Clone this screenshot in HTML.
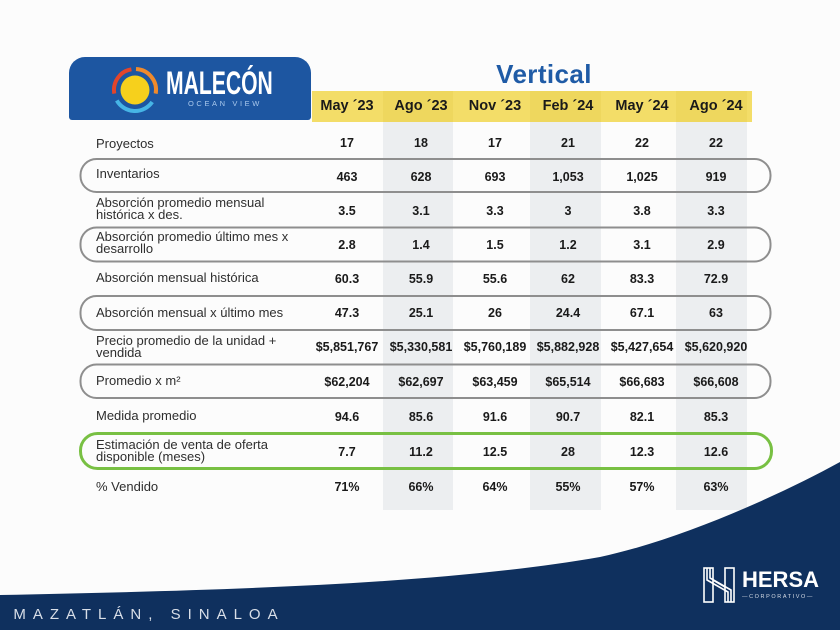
<!DOCTYPE html>
<html>
<head>
<meta charset="utf-8">
<style>
  html,body{margin:0;padding:0;}
  body{width:840px;height:630px;position:relative;overflow:hidden;background:#fcfcfc;font-family:"Liberation Sans",Arial,sans-serif;}
  .abs{position:absolute;}
  .hdr{position:absolute;top:91px;height:31px;line-height:31px;width:80px;text-align:center;font-weight:bold;font-size:14.5px;color:#1a1a1a;}
  .lbl{position:absolute;left:96px;font-size:13px;color:#2e2e2e;line-height:12px;white-space:nowrap;}
  .v{position:absolute;width:90px;text-align:center;font-weight:bold;font-size:12.5px;color:#1a1a1a;line-height:14px;white-space:nowrap;}
</style>
</head>
<body>
<svg class="abs" style="left:0;top:0" width="840" height="630" viewBox="0 0 840 630">
  <!-- gray alternating columns -->
  <rect x="383" y="91" width="70" height="419" fill="#eceef0"/>
  <rect x="530" y="91" width="71" height="419" fill="#eceef0"/>
  <rect x="676" y="91" width="71" height="419" fill="#eceef0"/>
  <!-- yellow header -->
  <rect x="312" y="91" width="440" height="31" fill="#f3dd68"/>
  <rect x="383" y="91" width="70" height="31" fill="#eed75e"/>
  <rect x="530" y="91" width="71" height="31" fill="#eed75e"/>
  <rect x="676" y="91" width="71" height="31" fill="#eed75e"/>
  <!-- blue logo box -->
  <rect x="69" y="57" width="242" height="63" rx="16" fill="#1d56a1"/>
  <rect x="69" y="90" width="242" height="30" rx="3" fill="#1d56a1"/>
  <!-- sun logo -->
  <circle cx="135" cy="90" r="14.5" fill="#f6d01c"/>
  <path d="M114.3 93.6 A21 21 0 0 1 131.4 69.3" fill="none" stroke="#e2452b" stroke-width="4"/>
  <path d="M136 69 A21 21 0 0 1 155.7 93.6" fill="none" stroke="#ef8a2c" stroke-width="4"/>
  <path d="M152.2 102 A21 21 0 0 1 116.8 100.5" fill="none" stroke="#46b5e6" stroke-width="4"/>
  <!-- row ovals -->
  <rect x="80.5" y="159" width="690" height="33" rx="16" fill="none" stroke="#8e8e8e" stroke-width="2"/>
  <rect x="80.5" y="227.5" width="690" height="34" rx="16" fill="none" stroke="#8e8e8e" stroke-width="2"/>
  <rect x="80.5" y="296" width="690" height="34" rx="16" fill="none" stroke="#8e8e8e" stroke-width="2"/>
  <rect x="80.5" y="364.5" width="690" height="33.5" rx="16" fill="none" stroke="#8e8e8e" stroke-width="2"/>
  <rect x="80.5" y="433.5" width="691" height="35" rx="17" fill="none" stroke="#78c043" stroke-width="3"/>
  <!-- navy bottom -->
  <path d="M0 595 C250 590 450 583 600 557 C680 540 780 495 840 462 L840 630 L0 630 Z" fill="#0f305e"/>
  <!-- HERSA icon -->
  <g fill="none" stroke="#ffffff" stroke-width="1.6">
    <rect x="704" y="568" width="9" height="34"/>
    <rect x="725" y="568" width="9" height="34"/>
    <path d="M707 568 L707 580 L728 592 L728 602"/>
    <path d="M710 568 L710 578 L731 590 L731 602"/>
    <path d="M713 580 L725 587"/>
  </g>
</svg>

<!-- Title -->
<div class="abs" style="left:444px;top:58px;width:200px;text-align:center;font-size:26px;font-weight:bold;color:#1f5ba6;letter-spacing:0.4px;line-height:32px;">Vertical</div>

<!-- Logo text -->
<div class="abs" style="left:166px;top:66px;font-size:32px;font-weight:bold;color:#ffffff;line-height:34px;transform:scaleX(0.66);transform-origin:0 0;white-space:nowrap;">MALECÓN</div>
<div class="abs" style="left:188px;top:99px;font-size:7.5px;color:#a9c8ec;letter-spacing:2.6px;line-height:9px;white-space:nowrap;">OCEAN VIEW</div>

<!-- Header -->
<div class="hdr" style="left:307px;">May ´23</div>
<div class="hdr" style="left:381px;">Ago ´23</div>
<div class="hdr" style="left:455px;">Nov ´23</div>
<div class="hdr" style="left:528px;">Feb ´24</div>
<div class="hdr" style="left:602px;">May ´24</div>
<div class="hdr" style="left:676px;">Ago ´24</div>

<!-- Labels -->
<div class="lbl" style="top:138px;">Proyectos</div>
<div class="lbl" style="top:168px;">Inventarios</div>
<div class="lbl" style="top:197px;">Absorción promedio mensual<br>histórica x des.</div>
<div class="lbl" style="top:231px;">Absorción promedio último mes x<br>desarrollo</div>
<div class="lbl" style="top:272px;">Absorción mensual histórica</div>
<div class="lbl" style="top:307px;">Absorción mensual x último mes</div>
<div class="lbl" style="top:335px;">Precio promedio de la unidad +<br>vendida</div>
<div class="lbl" style="top:375px;">Promedio x m²</div>
<div class="lbl" style="top:410px;">Medida promedio</div>
<div class="lbl" style="top:439px;">Estimación de venta de oferta<br>disponible (meses)</div>
<div class="lbl" style="top:481px;">% Vendido</div>

<!-- Values: column centers 347,421,495,568,642,716 ; left = c-45 -->
<!-- Proyectos 143 -->
<div class="v" style="left:302px;top:136px;">17</div>
<div class="v" style="left:376px;top:136px;">18</div>
<div class="v" style="left:450px;top:136px;">17</div>
<div class="v" style="left:523px;top:136px;">21</div>
<div class="v" style="left:597px;top:136px;">22</div>
<div class="v" style="left:671px;top:136px;">22</div>
<!-- Inventarios 177 -->
<div class="v" style="left:302px;top:170px;">463</div>
<div class="v" style="left:376px;top:170px;">628</div>
<div class="v" style="left:450px;top:170px;">693</div>
<div class="v" style="left:523px;top:170px;">1,053</div>
<div class="v" style="left:597px;top:170px;">1,025</div>
<div class="v" style="left:671px;top:170px;">919</div>
<!-- Abs prom mensual 211 -->
<div class="v" style="left:302px;top:204px;">3.5</div>
<div class="v" style="left:376px;top:204px;">3.1</div>
<div class="v" style="left:450px;top:204px;">3.3</div>
<div class="v" style="left:523px;top:204px;">3</div>
<div class="v" style="left:597px;top:204px;">3.8</div>
<div class="v" style="left:671px;top:204px;">3.3</div>
<!-- Abs ultimo mes 245 -->
<div class="v" style="left:302px;top:238px;">2.8</div>
<div class="v" style="left:376px;top:238px;">1.4</div>
<div class="v" style="left:450px;top:238px;">1.5</div>
<div class="v" style="left:523px;top:238px;">1.2</div>
<div class="v" style="left:597px;top:238px;">3.1</div>
<div class="v" style="left:671px;top:238px;">2.9</div>
<!-- Abs mensual historica 279 -->
<div class="v" style="left:302px;top:272px;">60.3</div>
<div class="v" style="left:376px;top:272px;">55.9</div>
<div class="v" style="left:450px;top:272px;">55.6</div>
<div class="v" style="left:523px;top:272px;">62</div>
<div class="v" style="left:597px;top:272px;">83.3</div>
<div class="v" style="left:671px;top:272px;">72.9</div>
<!-- Abs mensual x ultimo 313 -->
<div class="v" style="left:302px;top:306px;">47.3</div>
<div class="v" style="left:376px;top:306px;">25.1</div>
<div class="v" style="left:450px;top:306px;">26</div>
<div class="v" style="left:523px;top:306px;">24.4</div>
<div class="v" style="left:597px;top:306px;">67.1</div>
<div class="v" style="left:671px;top:306px;">63</div>
<!-- Precio 347 -->
<div class="v" style="left:302px;top:340px;">$5,851,767</div>
<div class="v" style="left:376px;top:340px;">$5,330,581</div>
<div class="v" style="left:450px;top:340px;">$5,760,189</div>
<div class="v" style="left:523px;top:340px;">$5,882,928</div>
<div class="v" style="left:597px;top:340px;">$5,427,654</div>
<div class="v" style="left:671px;top:340px;">$5,620,920</div>
<!-- Promedio m2 382 -->
<div class="v" style="left:302px;top:375px;">$62,204</div>
<div class="v" style="left:376px;top:375px;">$62,697</div>
<div class="v" style="left:450px;top:375px;">$63,459</div>
<div class="v" style="left:523px;top:375px;">$65,514</div>
<div class="v" style="left:597px;top:375px;">$66,683</div>
<div class="v" style="left:671px;top:375px;">$66,608</div>
<!-- Medida 417 -->
<div class="v" style="left:302px;top:410px;">94.6</div>
<div class="v" style="left:376px;top:410px;">85.6</div>
<div class="v" style="left:450px;top:410px;">91.6</div>
<div class="v" style="left:523px;top:410px;">90.7</div>
<div class="v" style="left:597px;top:410px;">82.1</div>
<div class="v" style="left:671px;top:410px;">85.3</div>
<!-- Estimacion 452 -->
<div class="v" style="left:302px;top:445px;">7.7</div>
<div class="v" style="left:376px;top:445px;">11.2</div>
<div class="v" style="left:450px;top:445px;">12.5</div>
<div class="v" style="left:523px;top:445px;">28</div>
<div class="v" style="left:597px;top:445px;">12.3</div>
<div class="v" style="left:671px;top:445px;">12.6</div>
<!-- Vendido 487 -->
<div class="v" style="left:302px;top:480px;">71%</div>
<div class="v" style="left:376px;top:480px;">66%</div>
<div class="v" style="left:450px;top:480px;">64%</div>
<div class="v" style="left:523px;top:480px;">55%</div>
<div class="v" style="left:597px;top:480px;">57%</div>
<div class="v" style="left:671px;top:480px;">63%</div>

<!-- Footer -->
<div class="abs" style="left:-9px;top:605px;font-size:15px;color:#d9dfe8;letter-spacing:7px;line-height:20px;white-space:nowrap;">/ MAZATLÁN, SINALOA</div>
<div class="abs" style="left:742px;top:568px;font-size:22px;font-weight:bold;color:#ffffff;line-height:24px;white-space:nowrap;">HERSA</div>
<div class="abs" style="left:742px;top:594px;font-size:5.5px;color:#d6dce6;letter-spacing:1.6px;line-height:7px;white-space:nowrap;">—CORPORATIVO—</div>
</body>
</html>
